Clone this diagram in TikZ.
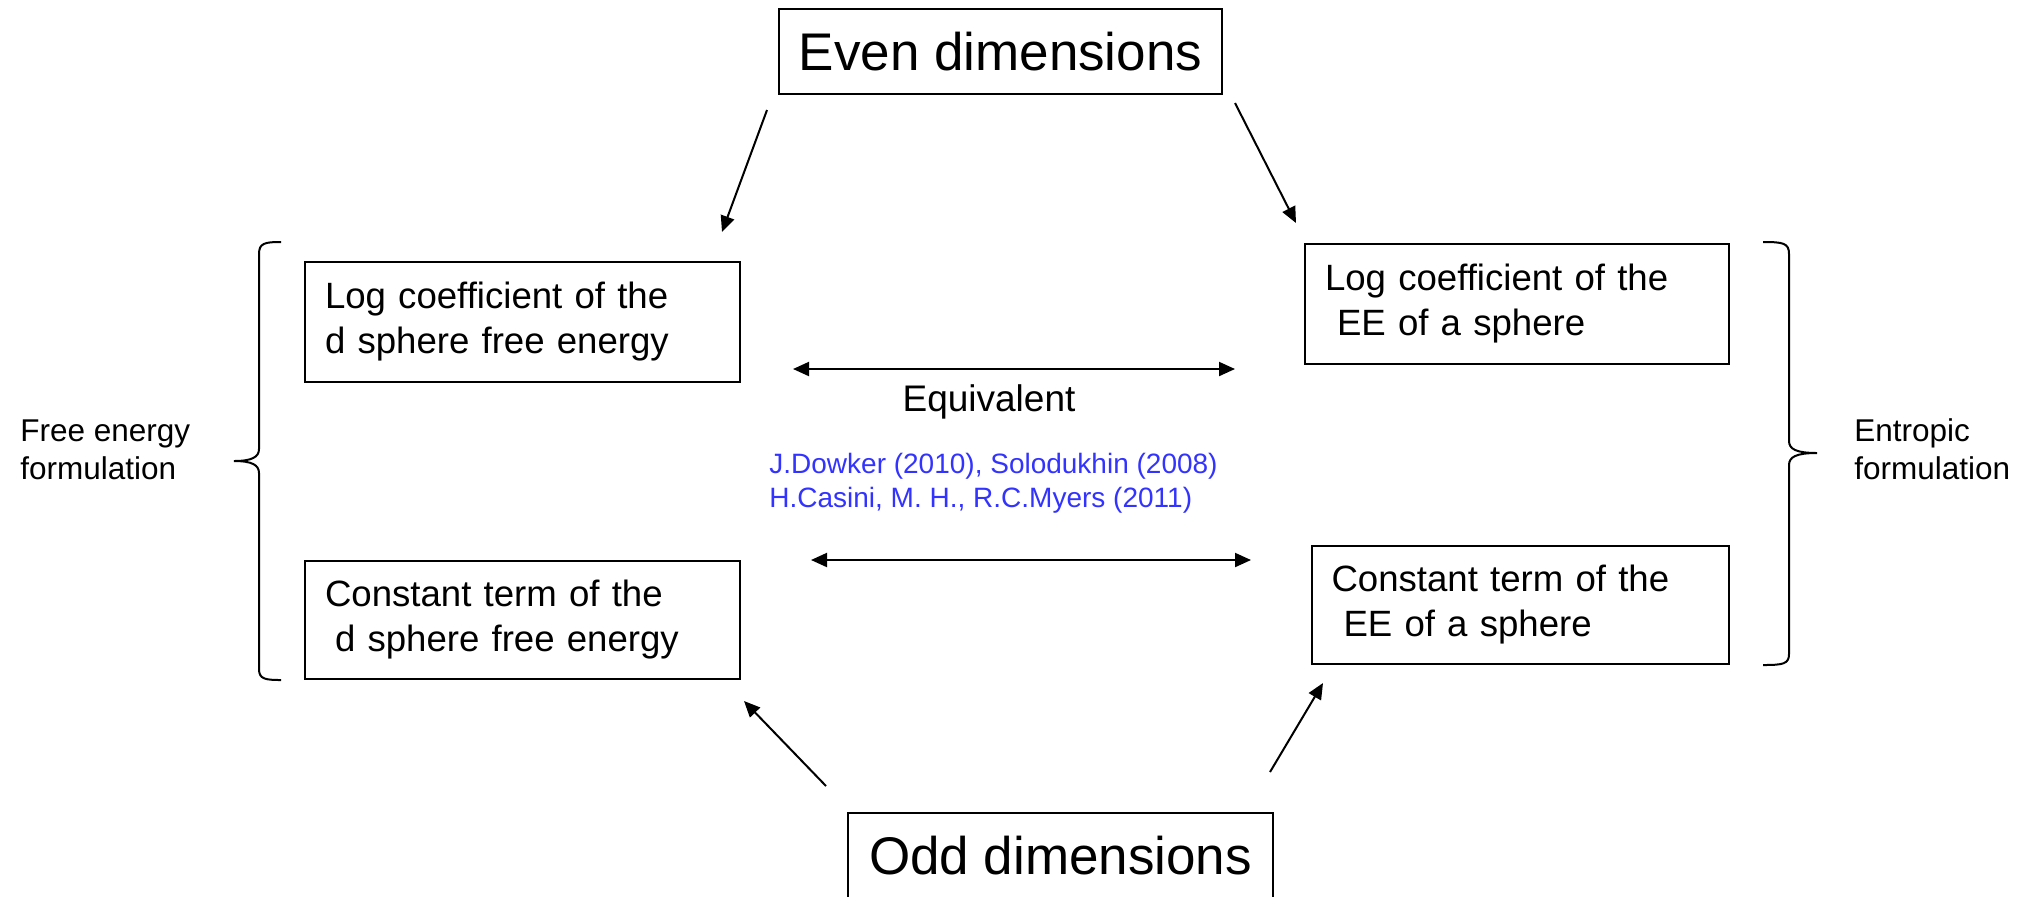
\documentclass[tikz,border=0pt]{standalone}
\usepackage{fontspec}
\setmainfont{Liberation Sans}
\usetikzlibrary{arrows.meta}
\definecolor{refblue}{RGB}{51,51,255}
\begin{document}
\begin{tikzpicture}[x=0.5pt,y=-0.5pt,
  box/.style={draw, line width=1pt, rectangle, inner xsep=10pt, inner ysep=0pt, align=left, font=\fontsize{18.3}{22.5}\selectfont},
  bigbox/.style={draw, line width=1pt, rectangle, inner sep=0pt, font=\fontsize{26.5}{32}\selectfont},
  arr/.style={line width=1pt, -{Triangle[length=8pt,width=7pt]}},
  darr/.style={line width=1pt, {Triangle[length=8pt,width=7pt]}-{Triangle[length=8pt,width=7pt]}},
  bracestyle/.style={line width=1pt},
  side/.style={align=left, anchor=base west, inner sep=0pt, font=\fontsize{15.75}{19}\selectfont},
]
\useasboundingbox (0,0) rectangle (2037,896);

% main boxes
\node[bigbox, minimum width=221.5pt, minimum height=42.5pt] (even) at (1000.5,51.5) {Even dimensions};
\node[bigbox, minimum width=212.5pt, minimum height=42.5pt] (odd) at (1060.5,855.5) {Odd dimensions};

\node[box, minimum width=217.5pt, minimum height=60pt, text width=197.5pt] (lt) at (522.5,322) {Log coefficient of the\\d sphere free energy};
\node[box, minimum width=217.5pt, minimum height=59pt, text width=197.5pt] (lb) at (522.5,620) {Constant term of the\\\hspace*{5pt}d sphere free energy};
\node[box, minimum width=212pt, minimum height=60pt, text width=192pt] (rt) at (1517,304) {Log coefficient of the\\\hspace*{6pt}EE of a sphere};
\node[box, minimum width=208.5pt, minimum height=59pt, text width=189pt, inner xsep=9.75pt] (rb) at (1520.5,605) {Constant term of the\\\hspace*{6pt}EE of a sphere};

% middle texts
\node[anchor=base, inner sep=0pt, font=\fontsize{18.5}{22.5}\selectfont] (eq) at (989,411) {Equivalent};
\node[anchor=base west, inner sep=0pt, align=left, text=refblue, font=\fontsize{14}{16.9}\selectfont] (refs) at (769,507) {J.Dowker (2010), Solodukhin (2008)\\H.Casini, M. H., R.C.Myers (2011)};

% side labels
\node[side] (fe) at (20,479) {Free energy\\formulation};
\node[side] (en) at (1854,479) {Entropic\\formulation};

% arrow end points
\coordinate (a1s) at (767,110);  \coordinate (a1e) at (722,232);
\coordinate (a2s) at (1235,103); \coordinate (a2e) at (1296,223);
\coordinate (a3s) at (826,786);  \coordinate (a3e) at (744,701);
\coordinate (a4s) at (1270,772); \coordinate (a4e) at (1323,683);
\coordinate (d1l) at (793,369);  \coordinate (d1r) at (1235,369);
\coordinate (d2l) at (811,560);  \coordinate (d2r) at (1251,560);

\draw[arr] (a1s) -- (a1e);
\draw[arr] (a2s) -- (a2e);
\draw[arr] (a3s) -- (a3e);
\draw[arr] (a4s) -- (a4e);
\draw[darr] (d1l) -- (d1r);
\draw[darr] (d2l) -- (d2r);

% braces
\draw[bracestyle] (281,242) .. controls (265,242) and (259,243) .. (259,254)
  -- (259,449) .. controls (259,457) and (252,461) .. (234,461)
  .. controls (252,461) and (259,465) .. (259,473)
  -- (259,669) .. controls (259,679) and (265,680) .. (281,680);
\draw[bracestyle] (1763,242) .. controls (1783,242) and (1789,243) .. (1789,254)
  -- (1789,441) .. controls (1789,449) and (1796,453) .. (1817,453)
  .. controls (1796,453) and (1789,457) .. (1789,465)
  -- (1789,654) .. controls (1789,664) and (1783,665) .. (1763,665);
\end{tikzpicture}
\end{document}
